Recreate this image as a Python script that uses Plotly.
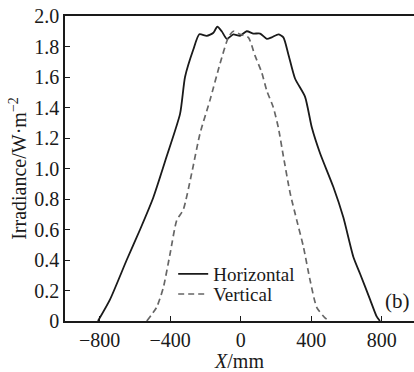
import plotly.graph_objects as go

h_x = [-810, -742, -647, -571, -496, -420, -344, -316, -269, -235, -193, -155, -133, -108, -79, -42, -4, 34, 72, 110, 148, 176, 214, 242, 270, 308, 365, 403, 450, 525, 582, 639, 677, 734, 771, 790]
h_y = [0.0, 0.14, 0.40, 0.60, 0.81, 1.08, 1.36, 1.60, 1.78, 1.88, 1.87, 1.89, 1.93, 1.90, 1.85, 1.88, 1.87, 1.90, 1.885, 1.885, 1.85, 1.86, 1.88, 1.86, 1.75, 1.59, 1.47, 1.27, 1.10, 0.88, 0.68, 0.42, 0.31, 0.14, 0.03, 0.0]

v_x = [-533, -477, -439, -401, -363, -326, -278, -231, -174, -117, -70, -42, -4, 43, 81, 119, 148, 185, 213, 242, 280, 318, 355, 393, 431, 478, 505]
v_y = [0.0, 0.09, 0.22, 0.44, 0.66, 0.73, 0.97, 1.23, 1.45, 1.69, 1.86, 1.90, 1.88, 1.86, 1.74, 1.63, 1.51, 1.40, 1.27, 1.08, 0.84, 0.66, 0.49, 0.27, 0.09, 0.02, 0.0]

x_ticks = [-800, -400, 0, 400, 800]
x_ticklabels = ["\u2212800", "\u2212400", "0", "400", "800"]
y_ticks = [0, 0.2, 0.4, 0.6, 0.8, 1.0, 1.2, 1.4, 1.6, 1.8, 2.0]
y_ticklabels = ["0", "0.2", "0.4", "0.6", "0.8", "1.0", "1.2", "1.4", "1.6", "1.8", "2.0"]

font = "Liberation Serif"

fig = go.Figure()
fig.add_trace(go.Scatter(x=h_x, y=h_y, mode="lines", name="Horizontal", legend="legend",
                         line=dict(color="#1a1a1a", width=1.8, shape="spline", smoothing=0.6)))
fig.add_trace(go.Scatter(x=v_x, y=v_y, mode="lines", name="Vertical", legend="legend2",
                         line=dict(color="#666666", width=1.7, dash="6px,4px", shape="spline", smoothing=0.6)))

leg_common = dict(xanchor="left", yanchor="middle", bgcolor="rgba(0,0,0,0)",
                  font=dict(size=19, family=font), itemwidth=30)

fig.update_layout(
    width=414, height=372,
    margin=dict(l=65, r=0, t=16, b=51),
    paper_bgcolor="white", plot_bgcolor="white",
    font=dict(family=font, size=20, color="#1a1a1a"),
    showlegend=True,
    legend=dict(x=0.31, y=0.154, **leg_common),
    legend2=dict(x=0.31, y=0.088, **leg_common),
    xaxis=dict(range=[-997, 983], tickvals=x_ticks, ticktext=x_ticklabels,
               ticks="inside", ticklen=5, tickcolor="#1a1a1a", automargin=False,
               showline=True, linecolor="#1a1a1a", linewidth=1.5, mirror=True,
               showgrid=False, zeroline=False, tickfont=dict(size=20, family=font),
               title=dict(text="<i>X</i>/mm", font=dict(size=20, family=font), standoff=2)),
    yaxis=dict(range=[0, 2.0], tickvals=y_ticks, ticktext=y_ticklabels,
               ticks="inside", ticklen=5, tickcolor="#1a1a1a", automargin=False,
               showline=True, linecolor="#1a1a1a", linewidth=1.5,
               showgrid=False, zeroline=False, tickfont=dict(size=20, family=font),
               title=dict(text="Irradiance/W\u00b7m<sup>\u22122</sup>", font=dict(size=20, family=font), standoff=2)),
    annotations=[dict(text="(b)", x=0.995, y=0.065, xref="paper", yref="paper",
                      xanchor="right", yanchor="middle", showarrow=False,
                      font=dict(size=21, family=font))],
)

fig.write_html("out.html", config={"displayModeBar": False},
               post_script="document.body.style.margin='0';document.body.style.overflow='hidden';")
